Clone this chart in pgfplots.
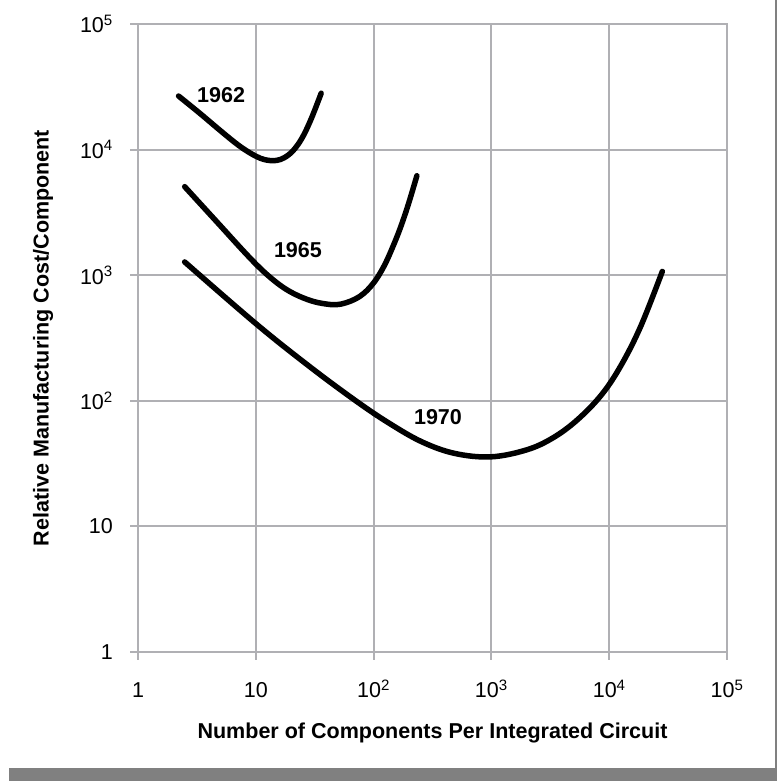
\documentclass[border=0pt]{standalone}
\usepackage{fontspec}
\setmainfont{Liberation Sans}
\usepackage{pgfplots}
\pgfplotsset{compat=1.18}
\definecolor{gridgray}{RGB}{176,176,180}
\definecolor{bargray}{RGB}{128,128,128}
\begin{document}
\begin{tikzpicture}[font=\fontsize{21.6}{26}\selectfont]
\path[use as bounding box] (-138bp,-129bp) rectangle (639bp,652bp);
\fill[bargray] (-129bp,-116bp) rectangle (639bp,-129bp);
\draw[bargray, line width=1.5bp] (638bp,652bp) -- (638bp,-116bp);
\begin{axis}[
  at={(0,0)}, anchor=south west,
  scale only axis, width=589bp, height=628bp,
  xmode=log, ymode=log,
  xmin=1, xmax=1e5, ymin=1, ymax=1e5,
  xtick={1,10,100,1000,10000,100000},
  ytick={1,10,100,1000,10000,100000},
  xticklabels={1,10,10\textsuperscript{2},10\textsuperscript{3},10\textsuperscript{4},10\textsuperscript{5}},
  yticklabels={1,10,10\textsuperscript{2},10\textsuperscript{3},10\textsuperscript{4},10\textsuperscript{5}},
  xminorticks=false, yminorticks=false,
  grid=major, grid style={gridgray, line width=2bp},
  axis line style={gridgray, line width=2bp},
  major tick style={gridgray, line width=2bp},
  major tick length=8bp,
  tick align=outside, tick pos=left,
  xticklabel style={anchor=base, inner sep=0pt, yshift=-38bp},
  yticklabel style={anchor=east, inner sep=0pt, xshift=-17bp},
  xlabel={\bfseries Number of Components Per Integrated Circuit},
  ylabel={\bfseries Relative Manufacturing Cost/Component},
  xlabel style={at={(axis description cs:0.5,0)}, anchor=center, yshift=-81bp},
  ylabel style={at={(axis description cs:0,0.5)}, anchor=center, rotate=0, yshift=95bp},
]
% 1962
\addplot[black, line width=5.5bp, line cap=round, smooth, tension=0.6, no marks] coordinates {(2.21,26700)(3.35,19450)(5.08,13990)(7.09,10870)(9.10,9310)(11.0,8510)(12.9,8200)(15.0,8200)(17.5,8630)(20.8,9840)(24.8,12440)(29.6,17660)(35.9,28100)};
% 1965
\addplot[black, line width=5.5bp, line cap=round, smooth, tension=0.6, no marks] coordinates {(2.49,5070)(4.98,2489)(7.55,1622)(10.06,1222)(12.9,982)(16.9,805)(22.1,697)(29.6,625)(38.0,593)(48.0,582)(58.2,603)(70.6,649)(82.5,716)(94.4,813)(108.1,963)(126.2,1245)(147.3,1728)(168.6,2379)(196.9,3648)(233,6190)};
% 1970
\addplot[black, line width=5.5bp, line cap=round, smooth, tension=0.6, no marks] coordinates {(2.49,1275)(10.06,410)(28.6,187.5)(70.6,100)(134.5,66.6)(256,47.2)(489,38.1)(993,35.8)(1995,40.7)(3319,50.6)(5335,70.2)(8590,111.4)(12610,191.4)(18580,394.5)(28250,1072)};
\node[font=\fontsize{21.6}{26}\selectfont\bfseries] at (axis cs:5.08,27400) {1962};
\node[font=\fontsize{21.6}{26}\selectfont\bfseries] at (axis cs:22.8,1577) {1965};
\node[font=\fontsize{21.6}{26}\selectfont\bfseries] at (axis cs:352,74.1) {1970};
\end{axis}
\end{tikzpicture}
\end{document}
